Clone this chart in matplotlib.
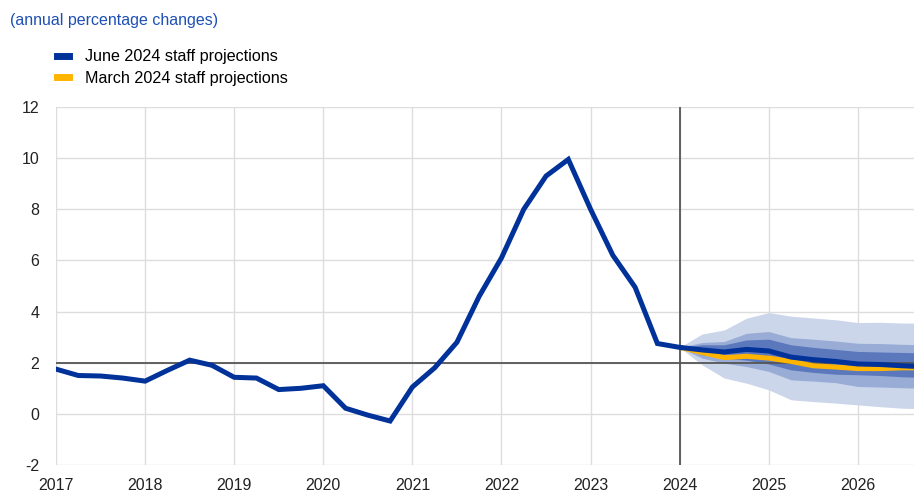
import numpy as np
import matplotlib.pyplot as plt
from matplotlib.lines import Line2D

plt.rcParams['font.family'] = ['Liberation Sans', 'DejaVu Sans']
plt.rcParams['axes.unicode_minus'] = False

# quarterly observations, 2017Q1 .. 2024Q1
hist = [1.75, 1.5, 1.48, 1.4, 1.28, 1.7, 2.1, 1.9, 1.43, 1.4, 0.95, 1.0,
        1.1, 0.22, -0.05, -0.28, 1.05, 1.8, 2.8, 4.6, 6.1, 8.0, 9.3, 9.95,
        8.0, 6.2, 4.95, 2.75, 2.6]
# projections 2024Q1 .. 2026Q4
june = [2.6, 2.5, 2.42, 2.52, 2.46, 2.22, 2.12, 2.05, 1.95, 1.93, 1.88, 1.84]
march = [2.6, 2.4, 2.2, 2.25, 2.18, 2.05, 1.88, 1.83, 1.77, 1.77, 1.8, 1.8]
outer_hi = [2.6, 3.12, 3.28, 3.74, 3.96, 3.82, 3.75, 3.68, 3.57, 3.58, 3.55, 3.55]
outer_lo = [2.6, 1.92, 1.4, 1.2, 0.94, 0.55, 0.48, 0.42, 0.35, 0.28, 0.22, 0.2]
mid_hi = [2.6, 2.79, 2.83, 3.15, 3.22, 2.98, 2.92, 2.85, 2.76, 2.75, 2.72, 2.7]
mid_lo = [2.6, 2.18, 1.98, 1.85, 1.66, 1.33, 1.28, 1.22, 1.07, 1.05, 1.02, 1.0]
in_hi = [2.6, 2.7, 2.7, 2.89, 2.92, 2.7, 2.6, 2.52, 2.44, 2.42, 2.4, 2.38]
in_lo = [2.6, 2.31, 2.18, 2.1, 1.95, 1.72, 1.62, 1.55, 1.53, 1.5, 1.45, 1.42]

years = list(range(2017, 2027))
yticks = list(range(-2, 13, 2))

xh = 2017 + np.arange(len(hist)) / 4
xp = 2024 + np.arange(len(june)) / 4

BLUE = '#003299'
YELLOW = '#ffb400'

fig = plt.figure(figsize=(9.14, 4.91), dpi=100)
ax = fig.add_axes([56/914, 1 - 465/491, 1 - 56/914, (465 - 107)/491])

ax.fill_between(xp, outer_lo, outer_hi, color='#ccd6ea', lw=0, zorder=1)
ax.fill_between(xp, mid_lo, mid_hi, color='#99acd6', lw=0, zorder=2)
ax.fill_between(xp, in_lo, in_hi, color='#5b78bd', lw=0, zorder=3)

ax.axhline(2, color='#555555', lw=1.3, zorder=4)
ax.axvline(2024, color='#555555', lw=1.3, zorder=4)

ax.plot(xp, march, color=YELLOW, lw=3.6, zorder=5, solid_capstyle='butt')
ax.plot(xp, june, color=BLUE, lw=3.6, zorder=6, solid_capstyle='butt')
ax.plot(xh, hist, color=BLUE, lw=3.6, zorder=6, solid_joinstyle='miter')

ax.set_xlim(2017, 2026.63)
ax.set_ylim(-2, 12)
ax.set_xticks(years)
ax.set_yticks(yticks)
ax.grid(True, color='#dddddd', lw=1)
ax.set_axisbelow(True)
for s in ax.spines.values():
    s.set_visible(False)
ax.tick_params(length=0, labelsize=11.5, colors='#222222')
ax.tick_params(axis='y', pad=12)
ax.tick_params(axis='x', pad=9)

fig.text(10/914, 1 - 20/491, '(annual percentage changes)', color='#1e50b4',
         fontsize=11.5, va='center')

handles = [Line2D([], [], color=BLUE, lw=5), Line2D([], [], color=YELLOW, lw=5)]
fig.legend(handles, ['June 2024 staff projections', 'March 2024 staff projections'],
           loc='upper left', bbox_to_anchor=(42/914, 1 - 35/491), frameon=False,
           fontsize=11.6, handlelength=0.8, handletextpad=0.95, labelspacing=0.4)

fig.savefig('out.png', dpi=100)
